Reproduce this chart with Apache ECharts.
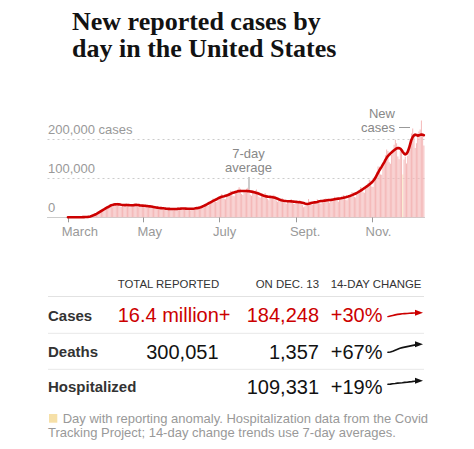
<!DOCTYPE html>
<html><head><meta charset="utf-8">
<script src="https://cdn.jsdelivr.net/npm/echarts@6/dist/echarts.min.js"></script>
<style>html,body{margin:0;padding:0;background:#fff}#c{width:474px;height:449px}</style>
</head><body><div id="c"></div>
<script>
// ---------- DATA (cases in thousands) ----------
const padDays = 16; // empty days before Mar 1 (Feb 14 - Feb 29)
const dailyMar = [0,0,0,0,0,0,0.1, 0.1,0.1,0.1,0.2,0.3,0.5,0.5, 0.5,0.7,1.1,1.6,2.5,3.8,4.9, 5.1,6.1,8.4,10.7,13.5,16.5,17.8, 16.3,17.1,21.3];
const dailyApr = [25,28,31,31,27,26,30,33,35,37,35,28,27,30,32,34,36,34,28,26,30,32,34,36,34,28,26,29,31,32];
const dailyMay = [34,32,26,24,27,28,30,31,29,23,21,24,25,26,27,25,20,19,21,22,23,25,23,19,18,20,22,23,25,24,20];
const dailyJun = [19,22,23,24,25,24,19,18,21,23,24,26,25,21,21,25,28,31,34,34,29,29,35,39,43,48,47,40,39,47];
const dailyJul = [51,55,60,50,47,46,54,58,63,68,66,55,54,62,67,72,77,73,60,57,65,69,73,76,72,58,55,63,66,69,71];
const dailyAug = [66,53,50,55,58,60,62,58,47,44,50,53,56,58,54,43,40,44,46,48,49,46,37,35,40,42,44,47,44,35,34];
const dailySep = [38,40,42,44,41,32,26,28,34,37,47,41,34,33,38,39,42,46,43,36,35,40,43,46,49,47,39,37,43,46];
const dailyOct = [49,53,50,42,40,46,50,53,57,55,45,44,51,55,60,65,63,52,51,60,66,71,78,76,64,63,74,81,88,96,94];
const dailyNov = [79,78,93,104,117,130,130,110,109,130,144,159,174,170,141,137,160,173,186,199,190,156,149,170,178,110,148,155,138,158];
const dailyDec = [180,200,215,228,214,178,190,215,220,225,248,215,184];

const avgMar = [0,0,0,0,0,0,0,0.1,0.1,0.1,0.2,0.3,0.4,0.5,0.6,0.8,1.1,1.6,2.3,3.3,4.5,5.8,7.3,8.8,10.5,12.5,14.5,16.5,18.5,20.3,22.2];
const avgApr = [24,25.8,27.5,29.5,30.8,31.8,32.6,33.2,33.6,33.5,33.1,32.6,32.1,31.7,31.4,31.3,31.4,31.5,31.3,31,30.8,30.9,31.2,31.6,31.8,31.7,31.2,30.6,30.2,30];
const avgMay = [29.8,29.6,29.2,28.7,28.2,27.9,27.6,27.2,26.6,26,25.3,24.8,24.3,23.9,23.6,23.3,23,22.6,22.2,21.9,21.7,21.5,21.4,21.3,21.2,21.2,21.3,21.5,21.8,22,22.2];
const avgJun = [22.4,22.6,22.5,22.3,22.1,21.9,21.8,21.8,21.9,22.1,22.5,23,23.5,24,24.8,25.8,27,28.5,30,31.5,33,35,36.8,38.5,40.2,42,43.6,45,46.8,48.5];
const avgJul = [50,51.3,52.5,53.3,54,55,56,57,58.5,60,61.5,62.8,63.8,64.8,65.8,66.6,67.2,67.5,67.6,67.6,67.5,67.5,67.4,67.2,66.8,66.4,65.8,65.2,64.4,63.5,62.5];
const avgAug = [61.5,60.3,59,57.8,56.5,55.3,54.3,53.6,53,52.6,52.3,52,51.6,51,50,48.8,47.5,46.2,45,44,43.2,42.5,42,41.6,41.3,41.1,41,40.8,40.6,40.3,40];
const avgSep = [39.6,39.2,38.8,38.5,38,37.3,36.4,35.4,34.6,34.2,34.6,35.5,36.4,37.2,37.8,38.3,38.8,39.5,40.3,41,41.6,42,42.4,42.8,43.2,43.6,44,44.3,44.6,45];
const avgOct = [45.6,46.2,46.8,47.3,47.8,48.3,48.8,49.4,50,50.8,51.6,52.5,53.4,54.4,55.5,56.8,58.2,59.6,61,62.6,64.3,66.2,68.2,70.3,72.5,74.7,77,79.3,81.7,84.2,86.8];
const avgNov = [89.5,93,97,102,108,114,120,125,130,135.5,141,147,152.5,157,160.5,163.5,166.5,169.5,172,174.5,176.5,177.5,177.5,176,172.5,167.5,163.5,161.5,163,168];
const avgDec = [177,188,199,206,210,212,211,209.5,210,211.5,212,211.5,210.5];

const anomalyDates = ['2020-11-26'];

const tickDates = ['2020-03-01','2020-05-01','2020-07-01','2020-09-01','2020-11-01'];
const tickLabels = ['March','May','July','Sept.','Nov.'];
const yTicks = [0, 100, 200];
const yTickLabels = ['0','100,000','200,000 cases'];

const headers = ['TOTAL REPORTED','ON DEC. 13','14-DAY CHANGE'];
const rowNames = ['Cases','Deaths','Hospitalized'];
const rowTotals = ['16.4 million+','300,051',''];
const rowOnDate = ['184,248','1,357','109,331'];
const rowChange = ['+30%','+67%','+19%'];

const trendCases = [100,104,108,112,115,117,119,120,121,122,123,124,125,126];
const trendDeaths = [100,102,106,112,118,124,128,131,134,137,140,143,146,148];
const trendHosp = [100,101,103,104,106,107,108,110,111,113,114,116,117,119];

// ---------- BUILD ----------
const daily = [].concat(dailyMar,dailyApr,dailyMay,dailyJun,dailyJul,dailyAug,dailySep,dailyOct,dailyNov,dailyDec);
const avg = [].concat(avgMar,avgApr,avgMay,avgJun,avgJul,avgAug,avgSep,avgOct,avgNov,avgDec);
const firstDay = Date.UTC(2020,1,14);
const categories = [];
for (let i = 0; i < padDays + daily.length; i++) {
  categories.push(new Date(firstDay + i*864e5).toISOString().slice(0,10));
}
const pad = new Array(padDays).fill(null);
const RED = '#cc0000';
const anomalyColor = '#f6e0a8';
const barData = pad.concat(daily.map((v,i) => {
  const d = categories[i+padDays];
  return anomalyDates.indexOf(d) >= 0 ? {value: v, itemStyle: {color: '#f8e7c4'}} : v;
}));
const lineData = pad.concat(avg);

const tickIdx = tickDates.map(d => categories.indexOf(d));
const labelShift = 5; // labels start slightly left of their tick
const labelIdx = tickIdx.map(i => i - labelShift);

const FONT = 'Liberation Sans, Arial, sans-serif';
const grayTxt = '#999';

function spark(idx, data, color, top, height) {
  return {
    grid: {left: 388, width: 31, top: top, height: height},
    xAxis: {type: 'category', gridIndex: idx, show: false, boundaryGap: false, data: data.map((_, i) => i)},
    yAxis: {type: 'value', gridIndex: idx, show: false, min: Math.min.apply(null, data), max: Math.max.apply(null, data)},
    series: {
      type: 'line', xAxisIndex: idx, yAxisIndex: idx, showSymbol: true, showAllSymbol: true, silent: true,
      lineStyle: {color: color, width: 1.6, cap: 'round'}, itemStyle: {color: color},
      data: data.map((v, i) => i === data.length - 1
        ? {value: v, symbol: 'triangle', symbolSize: [6, 8], symbolRotate: -90}
        : {value: v, symbol: 'none'})
    }
  };
}
const sparks = [
  spark(1, trendCases, RED, 312.7, 4),
  spark(2, trendDeaths, '#121212', 344.3, 8),
  spark(3, trendHosp, '#121212', 380.7, 3.6)
];

// ---------- GRAPHIC (title, annotations, table, note) ----------
const g = [];
function txt(x, y, text, font, fill, align, lh) {
  const st = {text: text, font: font, fill: fill, align: align || 'left', verticalAlign: 'middle'};
  if (lh) st.lineHeight = lh;
  g.push({type: 'text', x: x, y: y, silent: true, style: st});
}
function hline(x1, x2, y, color) {
  g.push({type: 'line', silent: true, shape: {x1: x1, y1: y, x2: x2, y2: y}, style: {stroke: color, lineWidth: 1}});
}
const titleFont = 'bold 26px "Liberation Serif", "Times New Roman", serif';
txt(72, 34.5, 'New reported cases by\nday in the United States', titleFont, '#121212', 'left', 27);

// annotations
txt(248.5, 160.5, '7-day\naverage', '13px ' + FONT, '#888', 'center', 14.4);
g.push({type: 'line', silent: true, shape: {x1: 249, y1: 177, x2: 249, y2: 190}, style: {stroke: '#999', lineWidth: 1}});
txt(395, 120.5, 'New\ncases', '13px ' + FONT, '#888', 'right', 14.4);
hline(399, 410, 127.5, '#999');

// table
const headFont = '11.4px ' + FONT;
txt(117.7, 284, headers[0], headFont, '#333', 'left');
txt(319, 284, headers[1], headFont, '#333', 'right');
txt(330.7, 284, headers[2], headFont, '#333', 'left');
hline(48, 424, 296.5, '#e2e2e2');
const rowY = [315, 351.5, 386.5];
const rowColor = [RED, '#121212', '#121212'];
const totalPos = [{x: 117.7, a: 'left'}, {x: 218.5, a: 'right'}, {x: 218.5, a: 'right'}];
rowNames.forEach((n, i) => {
  txt(48, rowY[i], n, 'bold 15px ' + FONT, '#333', 'left');
  if (rowTotals[i]) txt(totalPos[i].x, rowY[i], rowTotals[i], '20px ' + FONT, rowColor[i], totalPos[i].a);
  txt(319, rowY[i], rowOnDate[i], '20px ' + FONT, rowColor[i], 'right');
  txt(330.7, rowY[i], rowChange[i], '20px ' + FONT, rowColor[i], 'left');
});
hline(48, 424, 333.3, '#e8e8e8');
hline(48, 424, 369.3, '#e8e8e8');

// footnote
g.push({type: 'rect', silent: true, shape: {x: 49, y: 414, width: 8.3, height: 8.7}, style: {fill: anomalyColor}});
txt(62.7, 418.3, 'Day with reporting anomaly. Hospitalization data from the Covid', '13px ' + FONT, grayTxt, 'left');
txt(48, 432.8, 'Tracking Project; 14-day change trends use 7-day averages.', '13px ' + FONT, grayTxt, 'left');

// ---------- CHART ----------
const chart = echarts.init(document.getElementById('c'), null, {renderer: 'svg'});
chart.setOption({
  animation: false,
  backgroundColor: '#fff',
  grid: [{left: 47.5, right: 49.5, top: 139.3, bottom: 231.7}].concat(sparks.map(s => s.grid)),
  xAxis: [{
    type: 'category', data: categories, boundaryGap: true,
    axisLine: {show: true, lineStyle: {color: '#ccc', width: 1}},
    axisTick: {show: true, alignWithLabel: true, length: 5, lineStyle: {color: '#999'},
      interval: (i) => tickIdx.indexOf(i) >= 0},
    axisLabel: {show: true, interval: (i) => labelIdx.indexOf(i) >= 0, align: 'left', margin: 8,
      color: grayTxt, fontSize: 13, fontFamily: FONT,
      formatter: (v, i) => { const k = labelIdx.indexOf(i); return k >= 0 ? tickLabels[k] : ''; }},
    splitLine: {show: false}
  }].concat(sparks.map(s => s.xAxis)),
  yAxis: [{
    type: 'value', min: 0, max: 200, interval: 100,
    axisLine: {show: false}, axisTick: {show: false},
    axisLabel: {inside: true, margin: 0.5, color: grayTxt, fontSize: 13, fontFamily: FONT,
      verticalAlign: 'bottom', lineHeight: 19,
      formatter: (v) => { const k = yTicks.indexOf(v); return k >= 0 ? yTickLabels[k] : ''; }},
    splitLine: {show: true, lineStyle: {color: '#ccc', type: [2, 3], width: 1}}
  }].concat(sparks.map(s => s.yAxis)),
  series: [
    {type: 'bar', data: barData, barCategoryGap: '20%', clip: false, silent: true,
      itemStyle: {color: '#f4b8b8'}, z: 2},
    {type: 'line', data: lineData, clip: false, silent: true, symbol: 'none', smooth: false,
      lineStyle: {color: RED, width: 2.6, cap: 'round', join: 'round'}, z: 3}
  ].concat(sparks.map(s => s.series)),
  graphic: g
});
</script></body></html>
